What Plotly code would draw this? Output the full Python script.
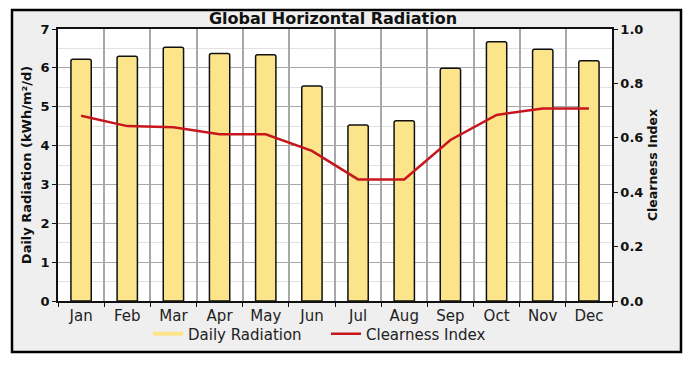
import plotly.graph_objects as go

months = ["Jan", "Feb", "Mar", "Apr", "May", "Jun",
          "Jul", "Aug", "Sep", "Oct", "Nov", "Dec"]
daily_radiation = [6.22, 6.30, 6.53, 6.37, 6.34, 5.53,
                   4.53, 4.64, 5.99, 6.67, 6.48, 6.18]
clearness_index = [0.681, 0.643, 0.639, 0.613, 0.613, 0.552,
                   0.447, 0.447, 0.592, 0.684, 0.708, 0.708]

W, H = 697, 365
L, R, T, B = 58, 85, 29, 64
pw, ph = W - L - R, H - T - B


def px_x(x):
    return (x - L) / pw


def px_y(y):
    return (H - B - y) / ph


FONT = "DejaVu Sans"
YELLOW = "#fce48a"
RED = "#c8161d"

fig = go.Figure()

fig.add_trace(go.Bar(
    x=months, y=daily_radiation, name="Daily Radiation",
    width=0.44, showlegend=False,
    marker=dict(color=YELLOW, line=dict(color="#111", width=1.5), cornerradius=2),
))
# legend swatch drawn as a line, like the original
fig.add_trace(go.Scatter(
    x=[None], y=[None], mode="lines", name="Daily Radiation",
    line=dict(color=YELLOW, width=4),
))
fig.add_trace(go.Scatter(
    x=months, y=clearness_index, name="Clearness Index", yaxis="y2",
    mode="lines", line=dict(color=RED, width=2.5),
))

fig.update_layout(
    width=W, height=H,
    margin=dict(l=L, r=R, t=T, b=B, autoexpand=False),
    paper_bgcolor="white",
    plot_bgcolor="rgba(0,0,0,0)",
    font=dict(family=FONT, size=15, color="#222"),
    title=dict(text="<b>Global Horizontal Radiation</b>", x=333 / W,
               xanchor="center", y=1 - 18 / H, yanchor="middle",
               font=dict(size=16, color="#111")),
    showlegend=True,
    legend=dict(orientation="h", x=px_x(148), xanchor="left",
                y=px_y(334), yanchor="middle",
                bgcolor="rgba(0,0,0,0)", font=dict(size=15, color="#222"),
                itemwidth=30, entrywidth=133),
    xaxis=dict(
        type="category", tickson="boundaries", automargin=False,
        showgrid=True, gridcolor="#a8a8a8", gridwidth=1.5,
        showline=True, linecolor="#111", linewidth=1.5, mirror=True,
        ticks="outside", ticklen=4, tickcolor="#111",
        tickfont=dict(size=15, color="#222"),
    ),
    yaxis=dict(
        range=[0, 7], dtick=1, automargin=False,
        showgrid=True, gridcolor="#a8a8a8", gridwidth=1.2,
        minor=dict(dtick=0.5, showgrid=True, gridcolor="#e2e2e2", gridwidth=1),
        showline=True, linecolor="#111", linewidth=1.5,
        ticks="outside", ticklen=4, tickcolor="#111",
        tickfont=dict(size=13, color="#111", weight="bold"),
        title=dict(text="<b>Daily Radiation (kWh/m²/d)</b>", standoff=6,
                   font=dict(size=13, color="#111")),
        zeroline=False,
    ),
    yaxis2=dict(
        range=[0, 1], dtick=0.2, tickformat=".1f", automargin=False,
        overlaying="y", side="right", showgrid=False,
        showline=True, linecolor="#111", linewidth=1.5,
        ticks="outside", ticklen=4, tickcolor="#111",
        tickfont=dict(size=13, color="#111", weight="bold"),
        title=dict(text="<b>Clearness Index</b>", standoff=6,
                   font=dict(size=12.5, color="#111")),
        zeroline=False,
    ),
    shapes=[
        dict(type="rect", xref="paper", yref="paper", layer="below",
             x0=px_x(12), x1=px_x(681), y0=px_y(352), y1=px_y(10),
             fillcolor="#efefef", line=dict(color="#000", width=2.5)),
        dict(type="rect", xref="paper", yref="paper", layer="below",
             x0=0, x1=1, y0=0, y1=1, fillcolor="white", line=dict(width=0)),
    ],
)

fig.write_html("out.html", config={"displayModeBar": False},
               post_script="document.body.style.margin = '0';")
